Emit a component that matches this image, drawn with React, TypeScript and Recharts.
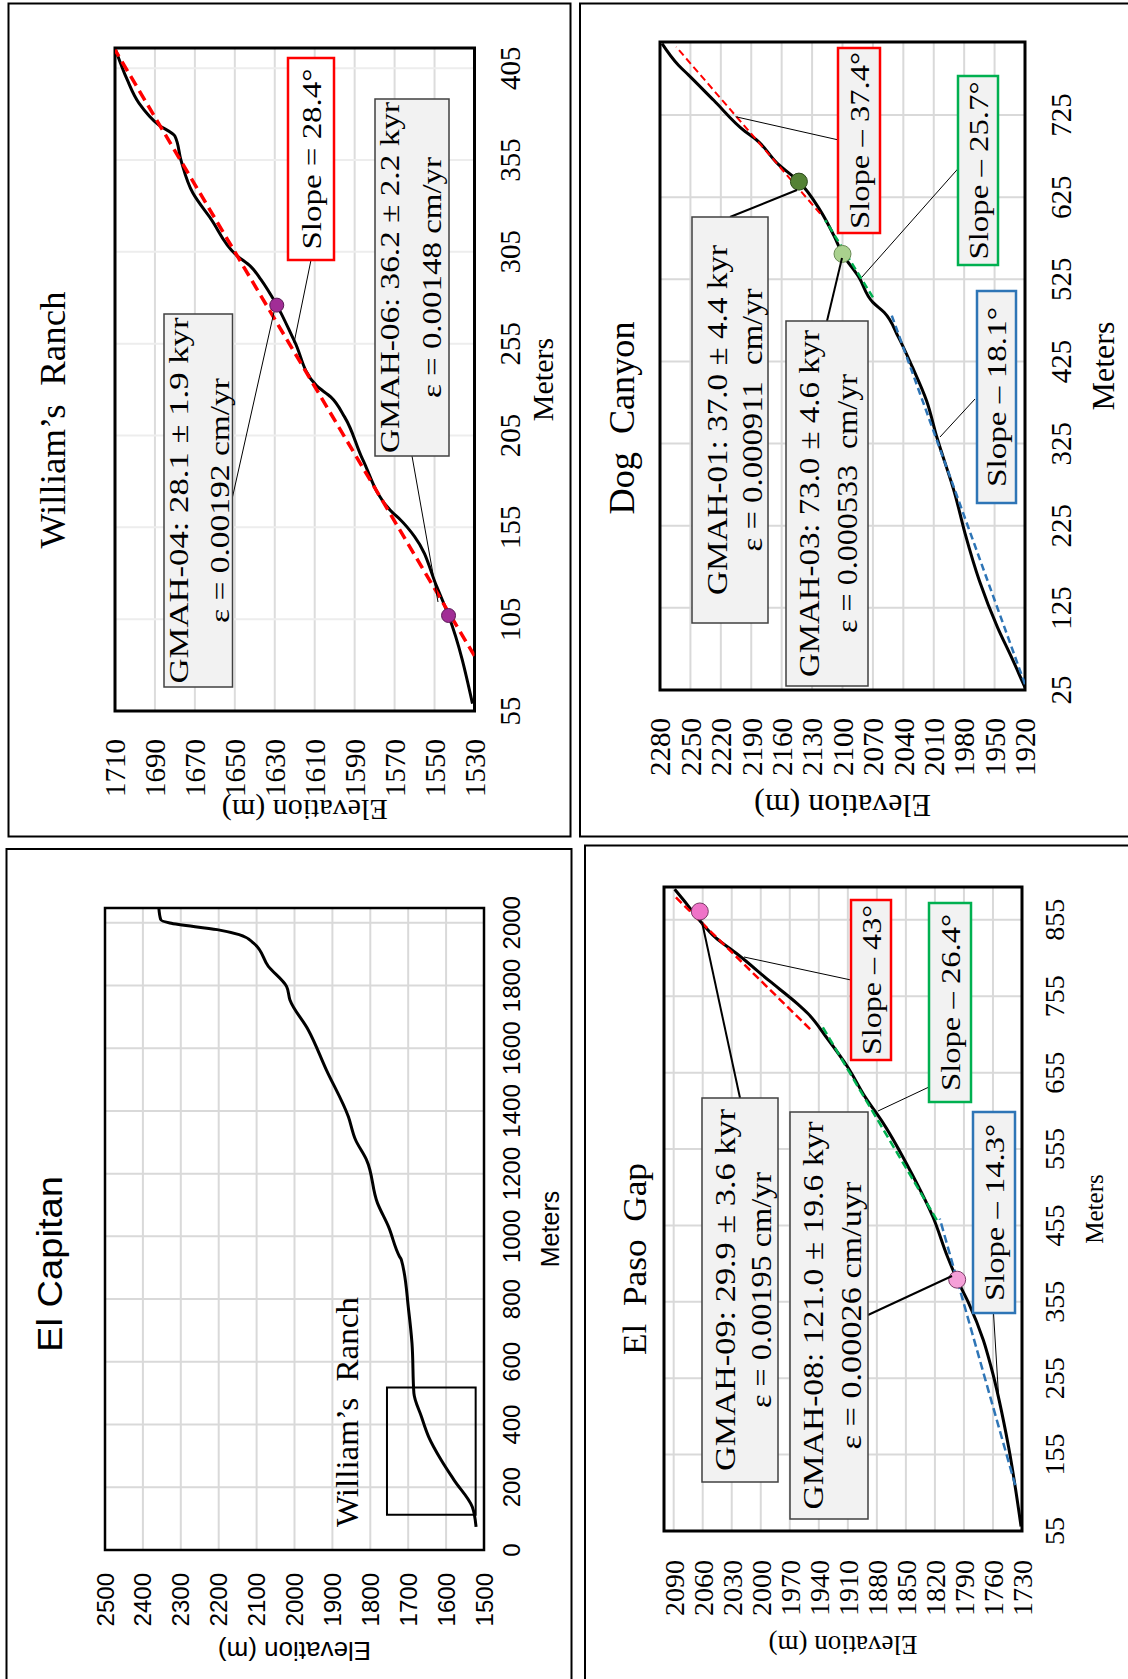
import React from "react";
import {
  ComposedChart,
  Line,
  XAxis,
  YAxis,
  CartesianGrid,
  ReferenceDot,
  ReferenceArea,
} from "recharts";

const SERIF = '"Liberation Serif", "Times New Roman", serif';
const SANS = '"Liberation Sans", Arial, sans-serif';
const RED = "#ff0000";
const GREEN = "#00b050";
const BLUE = "#2e75b6";

type Pt = { m: number; e: number };

// ---------- William's Ranch ----------
const wrMeterTicks = [55, 105, 155, 205, 255, 305, 355, 405];
const wrElevTicks = [1530, 1550, 1570, 1590, 1610, 1630, 1650, 1670, 1690, 1710];
const wrProfile: Pt[] = [
  { m: 59, e: 1531 }, { m: 107, e: 1543 }, { m: 123, e: 1549 }, { m: 150, e: 1560 },
  { m: 159, e: 1567 }, { m: 163, e: 1571 }, { m: 192, e: 1586 }, { m: 215, e: 1595 },
  { m: 226, e: 1602 }, { m: 232, e: 1609 }, { m: 256, e: 1620 }, { m: 276, e: 1629 },
  { m: 290, e: 1637 }, { m: 297, e: 1642 }, { m: 303, e: 1649 }, { m: 323, e: 1662 },
  { m: 337, e: 1671 }, { m: 355, e: 1677 }, { m: 368, e: 1680 }, { m: 374, e: 1688 },
  { m: 386, e: 1698 }, { m: 399, e: 1704 }, { m: 416, e: 1710 },
];
const wrFit: Pt[] = [{ m: 85, e: 1530 }, { m: 415, e: 1710 }];
const wrSamples: Pt[] = [{ m: 107, e: 1543 }, { m: 276, e: 1629 }];

// ---------- Dog Canyon ----------
const dcMeterTicks = [25, 125, 225, 325, 425, 525, 625, 725];
const dcElevTicks = [1920, 1950, 1980, 2010, 2040, 2070, 2100, 2130, 2160, 2190, 2220, 2250, 2280];
const dcProfile: Pt[] = [
  { m: 28, e: 1920 }, { m: 64, e: 1933 }, { m: 101, e: 1947 }, { m: 158, e: 1965 },
  { m: 215, e: 1979 }, { m: 263, e: 1989 }, { m: 333, e: 2007 }, { m: 377, e: 2017 },
  { m: 418, e: 2031 }, { m: 455, e: 2045 }, { m: 485, e: 2059 }, { m: 497, e: 2070 },
  { m: 528, e: 2084 }, { m: 556, e: 2100 }, { m: 577, e: 2108 }, { m: 609, e: 2122 },
  { m: 644, e: 2143 }, { m: 666, e: 2164 }, { m: 695, e: 2185 }, { m: 705, e: 2196 },
  { m: 743, e: 2227 }, { m: 774, e: 2252 }, { m: 786, e: 2262 }, { m: 812, e: 2278 },
];
const dcFitUpper: Pt[] = [{ m: 605, e: 2122 }, { m: 808, e: 2264 }];
const dcFitMiddle: Pt[] = [{ m: 503, e: 2070 }, { m: 597, e: 2117 }];
const dcFitLower: Pt[] = [{ m: 32, e: 1920 }, { m: 483, e: 2052 }];
const dcSampleUpper: Pt = { m: 644, e: 2143 };
const dcSampleLower: Pt = { m: 556, e: 2100 };

// ---------- El Capitan ----------
const ecMeterTicks = [0, 200, 400, 600, 800, 1000, 1200, 1400, 1600, 1800, 2000];
const ecElevTicks = [1500, 1600, 1700, 1800, 1900, 2000, 2100, 2200, 2300, 2400, 2500];
const ecProfile: Pt[] = [
  { m: 74, e: 1521 }, { m: 138, e: 1531 }, { m: 223, e: 1579 }, { m: 287, e: 1613 },
  { m: 361, e: 1646 }, { m: 425, e: 1665 }, { m: 500, e: 1685 }, { m: 659, e: 1690 },
  { m: 766, e: 1699 }, { m: 925, e: 1718 }, { m: 936, e: 1723 }, { m: 1031, e: 1752 },
  { m: 1106, e: 1781 }, { m: 1244, e: 1810 }, { m: 1308, e: 1839 }, { m: 1382, e: 1858 },
  { m: 1531, e: 1916 }, { m: 1659, e: 1964 }, { m: 1754, e: 2012 }, { m: 1797, e: 2021 },
  { m: 1861, e: 2069 }, { m: 1935, e: 2108 }, { m: 1962, e: 2146 }, { m: 1978, e: 2204 },
  { m: 1999, e: 2329 }, { m: 2010, e: 2353 }, { m: 2047, e: 2358 },
];
const ecInsetMeters = [112, 518];
const ecInsetElev = [1522, 1756];

// ---------- El Paso Gap ----------
const epMeterTicks = [55, 155, 255, 355, 455, 555, 655, 755, 855];
const epElevTicks = [1730, 1760, 1790, 1820, 1850, 1880, 1910, 1940, 1970, 2000, 2030, 2060, 2090];
const epProfile: Pt[] = [
  { m: 61, e: 1731 }, { m: 166, e: 1744 }, { m: 270, e: 1762 }, { m: 305, e: 1770 },
  { m: 353, e: 1785 }, { m: 384, e: 1797 }, { m: 414, e: 1807 }, { m: 466, e: 1822 },
  { m: 523, e: 1844 }, { m: 588, e: 1873 }, { m: 623, e: 1892 }, { m: 662, e: 1910 },
  { m: 701, e: 1932 }, { m: 732, e: 1951 }, { m: 745, e: 1962 }, { m: 775, e: 1991 },
  { m: 810, e: 2024 }, { m: 832, e: 2047 }, { m: 851, e: 2061 }, { m: 875, e: 2076 },
  { m: 895, e: 2089 },
];
const epFitUpper: Pt[] = [{ m: 712, e: 1949 }, { m: 886, e: 2089 }];
const epFitMiddle: Pt[] = [{ m: 462, e: 1818 }, { m: 719, e: 1938 }];
const epFitLower: Pt[] = [{ m: 115, e: 1737 }, { m: 464, e: 1815 }];
const epSampleUpper: Pt = { m: 866, e: 2063 };
const epSampleLower: Pt = { m: 384, e: 1797 };

type Fit = { data: Pt[]; color: string; width: number; dash: string };
type Dot = Pt & { r: number; fill: string; stroke: string };

interface ProfileProps {
  frame: { x: number; y: number; w: number; h: number };
  plot: { left: number; right: number; top: number; bottom: number };
  xDomain: number[];
  xTicks: number[];
  yDomain: number[];
  yTicks: number[];
  profile: Pt[];
  fits?: Fit[];
  dots?: Dot[];
  inset?: { m: number[]; e: number[] };
  font: string;
  tickSize: number;
  xLabelSize: number;
  yLabelSize: number;
  xTickMargin: number;
  yTickMargin: number;
  xLabelOffset: number;
  yLabelOffset: number;
  yLabelShift?: number;
  gridH: string;
  gridV: string;
  borderWidth: number;
}

// tick text with the font set explicitly on the element
function axisTick(font: string, size: number, bottom: boolean) {
  return (props: any) => (
    <text
      x={props.x}
      y={props.y}
      dy={bottom ? "0.71em" : "0.355em"}
      textAnchor={bottom ? "middle" : "end"}
      fontSize={size}
      fontFamily={font}
      style={{ fontFamily: font }}
      fill="#000"
    >
      {props.payload.value}
    </text>
  );
}

// The charts are drawn upright and then turned a quarter-turn counterclockwise,
// the way the figure was laid out on the page.
function Profile(p: ProfileProps) {
  const W = p.frame.h;
  const H = p.frame.w;
  return (
    <div style={{ position: "absolute", left: p.frame.x, top: p.frame.y, width: p.frame.w, height: p.frame.h }}>
      <div
        style={{
          position: "absolute",
          left: 0,
          top: 0,
          width: W,
          height: H,
          fontFamily: p.font,
          transformOrigin: "0 0",
          transform: `translateY(${W}px) rotate(-90deg)`,
        }}
      >
        <ComposedChart width={W} height={H} margin={{ top: p.plot.top, right: W - p.plot.right, left: 0, bottom: 0 }}>
          <CartesianGrid vertical={false} stroke={p.gridH} strokeWidth={2} />
          <CartesianGrid horizontal={false} stroke={p.gridV} strokeWidth={2} />
          <XAxis
            type="number"
            dataKey="m"
            domain={p.xDomain}
            ticks={p.xTicks}
            interval={0}
            allowDataOverflow
            height={H - p.plot.bottom}
            axisLine={false}
            tickLine={false}
            tickSize={0}
            tickMargin={p.xTickMargin}
            tick={axisTick(p.font, p.tickSize, true)}
            label={{
              value: "Meters",
              position: "insideBottom",
              offset: p.xLabelOffset,
              fill: "#000",
              style: { fontFamily: p.font, fontSize: p.xLabelSize },
            }}
          />
          <YAxis
            type="number"
            domain={p.yDomain}
            ticks={p.yTicks}
            interval={0}
            allowDataOverflow
            width={p.plot.left}
            axisLine={false}
            tickLine={false}
            tickSize={0}
            tickMargin={p.yTickMargin}
            tick={axisTick(p.font, p.tickSize, false)}
            label={{
              value: "Elevation (m)",
              angle: -90,
              position: "insideLeft",
              offset: p.yLabelOffset,
              dy: p.yLabelShift || 0,
              fill: "#000",
              style: { textAnchor: "middle", fontFamily: p.font, fontSize: p.yLabelSize },
            }}
          />
          <ReferenceArea
            x1={p.xDomain[0]}
            x2={p.xDomain[1]}
            y1={p.yDomain[0]}
            y2={p.yDomain[1]}
            fill="none"
            stroke="#000"
            strokeWidth={p.borderWidth}
            ifOverflow="visible"
          />
          {p.inset && (
            <ReferenceArea
              x1={p.inset.m[0]}
              x2={p.inset.m[1]}
              y1={p.inset.e[0]}
              y2={p.inset.e[1]}
              fill="none"
              stroke="#000"
              strokeWidth={2}
            />
          )}
          <Line
            data={p.profile}
            dataKey="e"
            type="monotone"
            stroke="#000"
            strokeWidth={3}
            dot={false}
            activeDot={false}
            isAnimationActive={false}
          />
          {(p.fits || []).map((f, i) => (
            <Line
              key={i}
              data={f.data}
              dataKey="e"
              type="linear"
              stroke={f.color}
              strokeWidth={f.width}
              strokeDasharray={f.dash}
              dot={false}
              activeDot={false}
              isAnimationActive={false}
            />
          ))}
          {(p.dots || []).map((d, i) => (
            <ReferenceDot
              key={i}
              x={d.m}
              y={d.e}
              r={d.r}
              fill={d.fill}
              stroke={d.stroke}
              strokeWidth={1}
              ifOverflow="visible"
            />
          ))}
        </ComposedChart>
      </div>
    </div>
  );
}

// ---------- page-level annotations (page pixels, text reads bottom to top) ----------
function VText(props: { x: number; y: number; size: number; len: number; font?: string; children: string }) {
  const { x, y, size, len, font = SERIF, children } = props;
  return (
    <text
      x={x}
      y={y}
      transform={`rotate(-90 ${x} ${y})`}
      textAnchor="middle"
      fontSize={size}
      fontFamily={font}
      textLength={len}
      lengthAdjust="spacingAndGlyphs"
      fill="#000"
      style={{ whiteSpace: "pre", fontFamily: font }}
    >
      {children}
    </text>
  );
}

type Note = {
  x1: number; x2: number; y1: number; y2: number;
  fill: string; stroke: string; sw: number; size: number;
  lines: { text: string; base: number; len: number }[];
  leader: number[][]; lw: number;
};

const GRAY = "#f2f2f2";
const EDGE = "#404040";

const notes: Note[] = [
  // William's Ranch
  { x1: 288, x2: 334, y1: 58, y2: 260, fill: "#fff", stroke: RED, sw: 2.5, size: 28,
    lines: [{ text: "Slope = 28.4°", base: 32.5, len: 181 }], leader: [[311, 260], [294, 343]], lw: 1 },
  { x1: 375, x2: 449, y1: 99, y2: 456, fill: GRAY, stroke: EDGE, sw: 1.5, size: 28,
    lines: [{ text: "GMAH-06: 36.2 ± 2.2 kyr", base: 24, len: 351 }, { text: "ε = 0.00148 cm/yr", base: 66, len: 241 }],
    leader: [[412, 456], [438, 602]], lw: 1 },
  { x1: 164, x2: 232.5, y1: 314, y2: 687, fill: GRAY, stroke: EDGE, sw: 1.5, size: 28,
    lines: [{ text: "GMAH-04: 28.1 ± 1.9 kyr", base: 23.5, len: 366 }, { text: "ε = 0.00192 cm/yr", base: 65, len: 245 }],
    leader: [[232.5, 497], [274, 312]], lw: 1 },
  // Dog Canyon
  { x1: 838, x2: 880, y1: 48, y2: 233, fill: GRAY, stroke: RED, sw: 2.5, size: 28,
    lines: [{ text: "Slope – 37.4°", base: 30.5, len: 177 }], leader: [[838.7, 140], [735.5, 116.7]], lw: 1 },
  { x1: 958, x2: 998, y1: 76, y2: 265, fill: GRAY, stroke: GREEN, sw: 2.5, size: 28,
    lines: [{ text: "Slope – 25.7°", base: 29.5, len: 178 }], leader: [[958.6, 168], [862, 277]], lw: 1 },
  { x1: 977, x2: 1016, y1: 291, y2: 503, fill: GRAY, stroke: BLUE, sw: 2.5, size: 28,
    lines: [{ text: "Slope – 18.1°", base: 29, len: 180 }], leader: [[975, 399], [940, 437]], lw: 1 },
  { x1: 692, x2: 768, y1: 217, y2: 623, fill: GRAY, stroke: EDGE, sw: 1.5, size: 30,
    lines: [{ text: "GMAH-01: 37.0 ± 4.4 kyr", base: 34.5, len: 350 }, { text: "ε = 0.000911  cm/yr", base: 69.5, len: 263 }],
    leader: [[730, 217], [797, 190]], lw: 2 },
  { x1: 786, x2: 868, y1: 321, y2: 686, fill: GRAY, stroke: EDGE, sw: 1.5, size: 30,
    lines: [{ text: "GMAH-03: 73.0 ± 4.6 kyr", base: 33, len: 347 }, { text: "ε = 0.000533  cm/yr", base: 71, len: 259 }],
    leader: [[827, 321], [842, 258]], lw: 2 },
  // El Paso Gap
  { x1: 851, x2: 891, y1: 900, y2: 1060, fill: GRAY, stroke: RED, sw: 2.5, size: 28,
    lines: [{ text: "Slope – 43°", base: 29.5, len: 150 }], leader: [[851, 980], [744, 957]], lw: 1 },
  { x1: 929, x2: 971, y1: 903, y2: 1102, fill: GRAY, stroke: GREEN, sw: 2.5, size: 28,
    lines: [{ text: "Slope – 26.4°", base: 30.5, len: 177 }], leader: [[929, 1087], [878, 1111]], lw: 1 },
  { x1: 973, x2: 1015, y1: 1112, y2: 1313, fill: GRAY, stroke: BLUE, sw: 2.5, size: 28,
    lines: [{ text: "Slope – 14.3°", base: 30.5, len: 177 }], leader: [[993.5, 1313], [999, 1403]], lw: 1 },
  { x1: 702, x2: 778, y1: 1098, y2: 1482, fill: GRAY, stroke: EDGE, sw: 1.5, size: 30,
    lines: [{ text: "GMAH-09: 29.9 ± 3.6 kyr", base: 33, len: 362 }, { text: "ε = 0.00195 cm/yr", base: 69, len: 236 }],
    leader: [[740, 1098], [702, 922]], lw: 2 },
  { x1: 790, x2: 868, y1: 1112, y2: 1519, fill: GRAY, stroke: EDGE, sw: 1.5, size: 30,
    lines: [{ text: "GMAH-08: 121.0 ± 19.6 kyr", base: 33, len: 388 }, { text: "ε = 0.00026 cm/uyr", base: 71, len: 268 }],
    leader: [[868, 1315], [952, 1276]], lw: 2 },
];

const titles = [
  { text: "William’s  Ranch", x: 65, y: 420, size: 36, len: 257, font: SERIF },
  { text: "Dog  Canyon", x: 634, y: 418, size: 35, len: 193, font: SERIF },
  { text: "El Capitan", x: 62, y: 1264, size: 35, len: 176, font: SANS },
  { text: "El  Paso  Gap", x: 646, y: 1259, size: 33, len: 192, font: SERIF },
  { text: "William’s  Ranch", x: 358, y: 1412, size: 31, len: 230, font: SERIF },
];

const frames = [
  { x: 8.5, y: 3.5, w: 562, h: 833 },
  { x: 580, y: 3.5, w: 560, h: 833 },
  { x: 6.5, y: 849, w: 565, h: 840 },
  { x: 585, y: 845.5, w: 560, h: 840 },
];

export default function App() {
  return (
    <div style={{ position: "absolute", left: 0, top: 0, width: 1128, height: 1679, overflow: "hidden", background: "#fff" }}>
      <Profile
        frame={{ x: 8, y: 3, w: 563, h: 834 }}
        plot={{ left: 126, right: 789, top: 107, bottom: 466.5 }}
        xDomain={[55, 416]}
        xTicks={wrMeterTicks}
        yDomain={[1530, 1710]}
        yTicks={wrElevTicks}
        profile={wrProfile}
        fits={[{ data: wrFit, color: RED, width: 3.5, dash: "11 6" }]}
        dots={wrSamples.map((s) => ({ ...s, r: 7, fill: "#a12d96", stroke: "#5a1a55" }))}
        font={SERIF}
        tickSize={29}
        xLabelSize={30}
        yLabelSize={30}
        xTickMargin={25}
        yTickMargin={28}
        xLabelOffset={18}
        yLabelOffset={26}
        yLabelShift={10}
        gridH="#dcdcdc"
        gridV="#ededed"
        borderWidth={3}
      />
      <Profile
        frame={{ x: 580, y: 3, w: 551, h: 834 }}
        plot={{ left: 147, right: 795, top: 80, bottom: 445 }}
        xDomain={[25, 814]}
        xTicks={dcMeterTicks}
        yDomain={[1920, 2280]}
        yTicks={dcElevTicks}
        profile={dcProfile}
        fits={[
          { data: dcFitUpper, color: RED, width: 2, dash: "7 4" },
          { data: dcFitMiddle, color: GREEN, width: 2.5, dash: "7 4" },
          { data: dcFitLower, color: BLUE, width: 2.5, dash: "7 4" },
        ]}
        dots={[
          { ...dcSampleUpper, r: 8.5, fill: "#548235", stroke: "#2d4a1c" },
          { ...dcSampleLower, r: 8.5, fill: "#a9d18e", stroke: "#6a8a55" },
        ]}
        font={SERIF}
        tickSize={29}
        xLabelSize={32}
        yLabelSize={32}
        xTickMargin={25}
        yTickMargin={28}
        xLabelOffset={17}
        yLabelOffset={31}
        gridH="#d9d9d9"
        gridV="#d9d9d9"
        borderWidth={3}
      />
      <Profile
        frame={{ x: 6, y: 849, w: 565, h: 833 }}
        plot={{ left: 132, right: 774, top: 99, bottom: 478 }}
        xDomain={[0, 2047]}
        xTicks={ecMeterTicks}
        yDomain={[1500, 2500]}
        yTicks={ecElevTicks}
        profile={ecProfile}
        inset={{ m: ecInsetMeters, e: ecInsetElev }}
        font={SANS}
        tickSize={24}
        xLabelSize={25}
        yLabelSize={26}
        xTickMargin={19}
        yTickMargin={23}
        xLabelOffset={12}
        yLabelOffset={31}
        gridH="#d9d9d9"
        gridV="#d9d9d9"
        borderWidth={2.5}
      />
      <Profile
        frame={{ x: 585, y: 845, w: 546, h: 837 }}
        plot={{ left: 151, right: 795, top: 79, bottom: 437 }}
        xDomain={[55, 898]}
        xTicks={epMeterTicks}
        yDomain={[1730, 2100]}
        yTicks={epElevTicks}
        profile={epProfile}
        fits={[
          { data: epFitUpper, color: RED, width: 2.5, dash: "8 4" },
          { data: epFitMiddle, color: GREEN, width: 2.5, dash: "8 4" },
          { data: epFitLower, color: BLUE, width: 2.5, dash: "8 4" },
        ]}
        dots={[
          { ...epSampleUpper, r: 8.5, fill: "#ef73c8", stroke: "#7a3a66" },
          { ...epSampleLower, r: 8.5, fill: "#f59fd8", stroke: "#7a3a66" },
        ]}
        font={SERIF}
        tickSize={28}
        xLabelSize={25}
        yLabelSize={27}
        xTickMargin={22}
        yTickMargin={29}
        xLabelOffset={28}
        yLabelOffset={36}
        gridH="#d9d9d9"
        gridV="#d9d9d9"
        borderWidth={3}
      />
      <svg width={1128} height={1679} style={{ position: "absolute", left: 0, top: 0, pointerEvents: "none" }}>
        {frames.map((f, i) => (
          <rect key={i} x={f.x} y={f.y} width={f.w} height={f.h} fill="none" stroke="#000" strokeWidth={2} />
        ))}
        {titles.map((t, i) => (
          <VText key={i} x={t.x} y={t.y} size={t.size} len={t.len} font={t.font}>
            {t.text}
          </VText>
        ))}
        {notes.map((n, i) => (
          <polyline
            key={"l" + i}
            points={n.leader.map((q) => q.join(",")).join(" ")}
            fill="none"
            stroke="#000"
            strokeWidth={n.lw}
          />
        ))}
        {notes.map((n, i) => (
          <g key={"n" + i}>
            <rect x={n.x1} y={n.y1} width={n.x2 - n.x1} height={n.y2 - n.y1} fill={n.fill} stroke={n.stroke} strokeWidth={n.sw} />
            {n.lines.map((l, j) => (
              <VText key={j} x={n.x1 + l.base} y={(n.y1 + n.y2) / 2} size={n.size} len={l.len}>
                {l.text}
              </VText>
            ))}
          </g>
        ))}
      </svg>
    </div>
  );
}
